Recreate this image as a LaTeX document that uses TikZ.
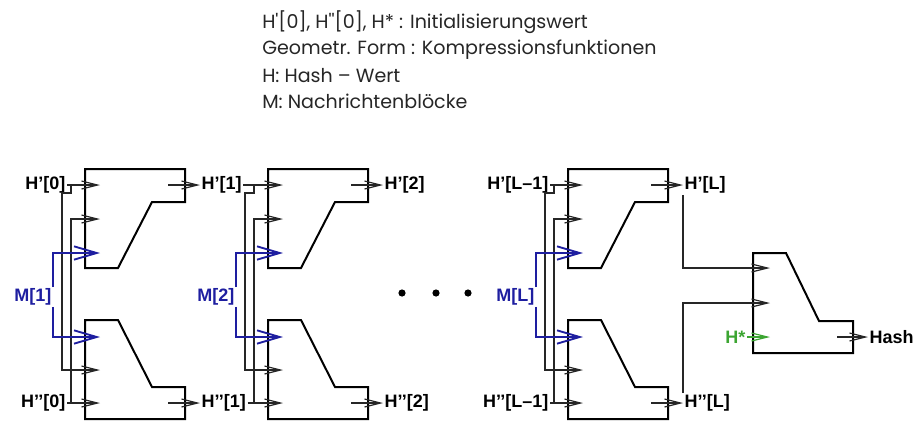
\documentclass[tikz,border=0pt]{standalone}
\usepackage{fontspec}
\setmainfont{Liberation Sans}
\newfontfamily\gothic{Poppins}
\usetikzlibrary{arrows.meta}
\definecolor{mblue}{RGB}{30,30,160}
\definecolor{hgreen}{RGB}{60,165,50}

\begin{document}
\begin{tikzpicture}[x=0.75pt, y=-0.75pt,
  >={Straight Barb[length=12pt,width=6pt]},
  blk/.style={draw, line width=1.5pt, line join=miter},
  con/.style={->, line width=0.9pt, draw=black!85},
  msg/.style={-{Straight Barb[length=17pt,width=10pt]}, line width=1.4pt, draw=mblue},
  lab/.style={font=\fontsize{13.5}{15}\selectfont\bfseries, inner sep=1pt},
  leg/.style={font=\gothic\fontsize{14.3}{16}\selectfont, text=black!85,
              anchor=base west, inner sep=0pt}]
  \useasboundingbox (0,0) rectangle (918,421);

  % legend
  \node[leg] (leg1) at (262,28) {H\textquotesingle[0], H\textquotesingle\textquotesingle[0], H* : Initialisierungswert};
  \node[leg] (leg2) at (262,55) {Geometr. Form : Kompressionsfunktionen};
  \node[leg] (leg3) at (262,82) {H: Hash – Wert};
  \node[leg] (leg4) at (262,108) {M: Nachrichtenblöcke};

  % compression stages
  \foreach \n/\L in {1/85, 2/268, 3/568} {
    \draw[blk] (\L,169) -- (\L+100,169) -- (\L+100,202) -- (\L+67,202)
      -- (\L+33,268) -- (\L,268) -- cycle;
    \draw[blk] (\L,320) -- (\L+33,320) -- (\L+67,387) -- (\L+100,387)
      -- (\L+100,419) -- (\L,419) -- cycle;
    \coordinate (a\n) at (\L+15,185);
    \coordinate (b\n) at (\L+15,219);
    \coordinate (c\n) at (\L+15,253);
    \coordinate (d\n) at (\L+15,337);
    \coordinate (e\n) at (\L+15,370);
    \coordinate (f\n) at (\L+15,403);
    \coordinate (s\n) at (\L-14,185);
    \coordinate (t\n) at (\L-14,403);
    \coordinate (u\n) at (\L+83,185);
    \coordinate (v\n) at (\L+83,403);
    \coordinate (p\n) at (\L+115,185);
    \coordinate (q\n) at (\L+115,403);
  }

  \node[lab, anchor=east] (hp0) at (67,185) {H’[0]};
  \node[lab, anchor=east] (hpp0) at (67,403) {H’’[0]};
  \node[lab, anchor=west] (hp1) at (p1) {H’[1]};
  \node[lab, anchor=west] (hpp1) at (q1) {H’’[1]};
  \node[lab, anchor=west] (hp2) at (p2) {H’[2]};
  \node[lab, anchor=west] (hpp2) at (q2) {H’’[2]};
  \node[lab, anchor=east] (hpL1) at (550,185) {H’[L–1]};
  \node[lab, anchor=east] (hppL1) at (550,403) {H’’[L–1]};
  \node[lab, anchor=west] (hpL) at (p3) {H’[L]};
  \node[lab, anchor=west] (hppL) at (q3) {H’’[L]};
  \node[lab, text=mblue, anchor=east] (m1) at (53,297) {M[1]};
  \node[lab, text=mblue, anchor=east] (m2) at (236,297) {M[2]};
  \node[lab, text=mblue, anchor=east] (m3) at (536,297) {M[L]};

  \foreach \n/\L/\hp/\hpp in {1/85/hp0/hpp0, 2/268/hp1/hpp1, 3/568/hpL1/hppL1} {
    \draw[con] (\hp.east) -- (a\n);
    \draw[con] (\hpp.east) -- (f\n);
    \draw[con] (s\n) -- (\L-14,193) -| (\L-23,370) -- (e\n);
    \draw[con] (t\n) |- (b\n);
    \draw[msg] (m\n.north east) |- (c\n);
    \draw[msg] (m\n.south east) |- (d\n);
    \draw[con] (u\n) -- (p\n);
    \draw[con] (v\n) -- (q\n);
  }

  % dots
  \foreach \x in {402,436,468}
    \fill (\x,293) circle[radius=2.7pt];

  % final compression
  \draw[blk] (753,253) -- (786,253) -- (819,321) -- (853,321) -- (853,353)
    -- (753,353) -- cycle;
  \coordinate (g1) at (770,268);
  \coordinate (g2) at (770,303);
  \coordinate (g3) at (770,337);
  \coordinate (w) at (837,337);
  \coordinate (r) at (868,337);
  \node[lab, text=hgreen, anchor=east] (hs) at (747,337) {H*};
  \node[lab, anchor=west] (hash) at (r) {Hash};
  \draw[con] (hpL.south west) |- (g1);
  \draw[con] (hppL.north west) |- (g2);
  \draw[con, draw=hgreen] (hs) -- (g3);
  \draw[con] (w) -- (r);
\end{tikzpicture}
\end{document}
